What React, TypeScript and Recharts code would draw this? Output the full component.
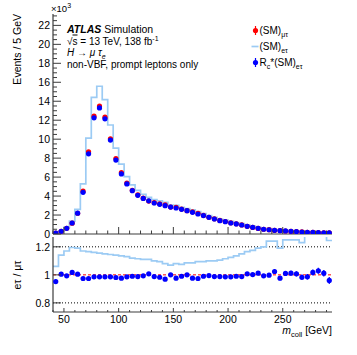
import { ComposedChart, Line, Scatter, XAxis, YAxis, ReferenceLine, ErrorBar } from 'recharts';

// bin centres in m_coll [GeV], 5 GeV bins from 40 to 295
const binCenters = [
  42.5, 47.5, 52.5, 57.5, 62.5, 67.5, 72.5, 77.5, 82.5, 87.5,
  92.5, 97.5, 102.5, 107.5, 112.5, 117.5, 122.5, 127.5, 132.5, 137.5,
  142.5, 147.5, 152.5, 157.5, 162.5, 167.5, 172.5, 177.5, 182.5, 187.5,
  192.5, 197.5, 202.5, 207.5, 212.5, 217.5, 222.5, 227.5, 232.5, 237.5,
  242.5, 247.5, 252.5, 257.5, 262.5, 267.5, 272.5, 277.5, 282.5, 287.5,
  292.5,
];

// Rc*(SM)eτ, events / 5 GeV (x10^3)
const scaledEt = [
  0.1, 0.28, 0.6, 1.16, 2.2, 4.4, 8.45, 12.25, 13.3, 12.15,
  9.9, 7.8, 6.33, 5.28, 4.57, 4.08, 3.75, 3.5, 3.27, 3.13,
  2.99, 2.84, 2.74, 2.6, 2.46, 2.29, 2.11, 1.94, 1.76, 1.58,
  1.41, 1.3, 1.16, 1.06, 0.95, 0.81, 0.7, 0.6, 0.5, 0.45,
  0.39, 0.35, 0.32, 0.28, 0.25, 0.21, 0.18, 0.17, 0.14, 0.13,
  0.11,
];

// Rc*(SM)eτ / (SM)μτ
const ratioScaled = [
  0.952, 1.005, 0.993, 1.017, 1.005, 0.974, 0.974, 0.986, 0.986, 0.986,
  0.986, 0.981, 0.976, 0.986, 0.99, 0.988, 0.993, 1.007, 0.988, 0.983,
  0.969, 1.0, 0.976, 0.99, 1.0, 0.976, 0.974, 0.99, 0.995, 0.988,
  0.988, 0.986, 0.986, 0.99, 0.988, 1.007, 1.002, 1.012, 0.993, 0.998,
  1.024, 0.976, 1.01, 1.012, 1.007, 0.983, 0.986, 1.017, 1.029, 1.012,
  0.96,
];

const ratioErr = [
  0.014, 0.012, 0.009, 0.008, 0.007, 0.006, 0.005, 0.005, 0.005, 0.005,
  0.005, 0.005, 0.005, 0.005, 0.005, 0.006, 0.006, 0.006, 0.006, 0.006,
  0.006, 0.006, 0.007, 0.007, 0.007, 0.007, 0.007, 0.008, 0.008, 0.008,
  0.009, 0.009, 0.01, 0.01, 0.011, 0.011, 0.012, 0.012, 0.013, 0.014,
  0.015, 0.015, 0.016, 0.017, 0.018, 0.019, 0.02, 0.021, 0.022, 0.023,
  0.025,
];

// (SM)eτ / (SM)μτ
const ratioRaw = [
  1.06, 1.14, 1.17, 1.195, 1.19, 1.17, 1.165, 1.16, 1.155, 1.15,
  1.145, 1.14, 1.135, 1.13, 1.12, 1.115, 1.11, 1.11, 1.1, 1.095,
  1.08, 1.07, 1.08, 1.075, 1.085, 1.085, 1.095, 1.095, 1.1, 1.1,
  1.105, 1.115, 1.125, 1.135, 1.15, 1.165, 1.175, 1.19, 1.2, 1.24,
  1.24, 1.19, 1.25, 1.25, 1.25, 1.23, 1.28, 1.28, 1.28, 1.28,
  1.245,
];

const xMajor = [50, 100, 150, 200, 250];
const yMainMajor = [0, 2, 4, 6, 8, 10, 12, 14, 16, 18, 20, 22];
const yRatioMajor = [0.8, 1, 1.2];

const FONT = '"Liberation Sans", Arial, Helvetica, sans-serif';
const FRAME = '#3c3c3c';
const RED = '#ff0000';
const BLUE = '#0000ff';
const LIGHT = '#9ccbf4';

const xTicks: number[] = [];
for (let v = 40; v <= 290; v += 10) xTicks.push(v);
const yMainTicks: number[] = [];
for (let v = 0; v <= 23; v += 0.5) yMainTicks.push(v);

const muTau = scaledEt.map((v, i) => v / ratioScaled[i]);
const etRaw = muTau.map((v, i) => v * ratioRaw[i]);

const redPts = binCenters.map((x, i) => ({ x, y: muTau[i] }));
const bluePts = binCenters.map((x, i) => ({ x, y: scaledEt[i] }));
const histStep = [
  ...binCenters.map((x, i) => ({ x: x - 2.5, y: etRaw[i] })),
  { x: 295, y: etRaw[etRaw.length - 1] },
];
const ratioPts = binCenters.map((x, i) => ({ x, y: ratioScaled[i], err: ratioErr[i] }));
const ratioStep = [
  ...binCenters.map((x, i) => ({ x: x - 2.5, y: ratioRaw[i] })),
  { x: 295, y: ratioRaw[ratioRaw.length - 1] },
];

type Side = 'left' | 'right' | 'top' | 'bottom';

const makeTick =
  (side: Side, majors: number[], majorLen: number, minorLen: number, label: boolean) =>
  (p: any) => {
    const v = p.payload.value;
    const major = majors.some((m) => Math.abs(m - v) < 1e-6);
    const len = major ? majorLen : minorLen;
    let x2 = p.x;
    let y2 = p.y;
    if (side === 'left') x2 = p.x + len;
    if (side === 'right') x2 = p.x - len;
    if (side === 'bottom') y2 = p.y - len;
    if (side === 'top') y2 = p.y + len;
    return (
      <g>
        <line x1={p.x} y1={p.y} x2={x2} y2={y2} stroke={FRAME} strokeWidth={1} />
        {label && major && side === 'left' && (
          <text x={p.x - 3} y={p.y} dy="0.36em" textAnchor="end" fontSize={10.5} fontFamily={FONT} fill="#000">
            {v}
          </text>
        )}
        {label && major && side === 'bottom' && (
          <text x={p.x} y={p.y + 11} textAnchor="middle" fontSize={10.5} fontFamily={FONT} fill="#000">
            {v}
          </text>
        )}
      </g>
    );
  };

const frameLine = { stroke: FRAME, strokeWidth: 1.2 };

const dot = (color: string) => (p: any) => <circle cx={p.cx} cy={p.cy} r={2.6} fill={color} />;

const MainPanel = () => (
  <ComposedChart width={357} height={240} margin={{ top: 14, right: 25, bottom: 0, left: 0 }}>
    <XAxis
      type="number"
      dataKey="x"
      domain={[40, 295]}
      ticks={xTicks}
      interval={0}
      height={6}
      tickSize={0}
      tickMargin={0}
      tickLine={false}
      axisLine={frameLine}
      tick={makeTick('bottom', xMajor, 7, 3.5, false)}
    />
    <XAxis
      xAxisId="t"
      orientation="top"
      type="number"
      dataKey="x"
      domain={[40, 295]}
      ticks={xTicks}
      interval={0}
      height={0}
      tickSize={0}
      tickMargin={0}
      tickLine={false}
      axisLine={frameLine}
      tick={makeTick('top', xMajor, 7, 3.5, false)}
    />
    <YAxis
      type="number"
      domain={[0, 23.2]}
      ticks={yMainTicks}
      interval={0}
      width={53}
      tickSize={0}
      tickMargin={0}
      tickLine={false}
      axisLine={frameLine}
      allowDataOverflow
      tick={makeTick('left', yMainMajor, 8, 4, true)}
    />
    <YAxis
      yAxisId="r"
      orientation="right"
      type="number"
      domain={[0, 23.2]}
      ticks={yMainTicks}
      interval={0}
      width={0}
      tickSize={0}
      tickMargin={0}
      tickLine={false}
      axisLine={frameLine}
      tick={makeTick('right', yMainMajor, 8, 4, false)}
    />
    <Line
      data={histStep}
      dataKey="y"
      type="stepAfter"
      stroke={LIGHT}
      strokeWidth={1.7}
      dot={false}
      isAnimationActive={false}
    />
    <Scatter data={redPts} dataKey="y" shape={dot(RED)} isAnimationActive={false} />
    <Scatter data={bluePts} dataKey="y" shape={dot(BLUE)} isAnimationActive={false} />
  </ComposedChart>
);

const RatioPanel = () => (
  <ComposedChart width={357} height={119} margin={{ top: 1, right: 25, bottom: 0, left: 0 }}>
    <XAxis
      type="number"
      dataKey="x"
      domain={[40, 295]}
      ticks={xTicks}
      interval={0}
      height={43}
      tickSize={0}
      tickMargin={0}
      tickLine={false}
      axisLine={frameLine}
      tick={makeTick('bottom', xMajor, 4, 2, true)}
    />
    <XAxis
      xAxisId="t"
      orientation="top"
      type="number"
      dataKey="x"
      domain={[40, 295]}
      ticks={xTicks}
      interval={0}
      height={0}
      tickSize={0}
      tickMargin={0}
      tickLine={false}
      axisLine={frameLine}
      tick={makeTick('top', xMajor, 4, 2, false)}
    />
    <YAxis
      type="number"
      domain={[0.735, 1.27]}
      ticks={yRatioMajor}
      interval={0}
      width={53}
      tickSize={0}
      tickMargin={0}
      tickLine={false}
      axisLine={frameLine}
      allowDataOverflow
      tick={makeTick('left', yRatioMajor, 8, 4, true)}
    />
    <YAxis
      yAxisId="r"
      orientation="right"
      type="number"
      domain={[0.735, 1.27]}
      ticks={yRatioMajor}
      interval={0}
      width={0}
      tickSize={0}
      tickMargin={0}
      tickLine={false}
      axisLine={frameLine}
      tick={makeTick('right', yRatioMajor, 8, 4, false)}
    />
    <ReferenceLine y={1.2} stroke="#000" strokeDasharray="1 2" strokeWidth={1} />
    <ReferenceLine y={0.8} stroke="#000" strokeDasharray="1 2" strokeWidth={1} />
    <ReferenceLine y={1} stroke={RED} strokeDasharray="3 2" strokeWidth={1} />
    <Line
      data={ratioStep}
      dataKey="y"
      type="stepAfter"
      stroke={LIGHT}
      strokeWidth={1.7}
      dot={false}
      isAnimationActive={false}
    />
    <Scatter data={ratioPts} dataKey="y" shape={dot(BLUE)} isAnimationActive={false}>
      <ErrorBar dataKey="err" direction="y" width={0} stroke={BLUE} strokeWidth={1.2} />
    </Scatter>
  </ComposedChart>
);

const Labels = () => (
  <svg
    width={357}
    height={355}
    style={{ position: 'absolute', left: 0, top: 0, pointerEvents: 'none' }}
    fontFamily={FONT}
  >
    <text x={51} y={12} fontSize={9.5}>
      ×10<tspan dy={-4} fontSize={7}>3</tspan>
    </text>
    <text transform="translate(21,14) rotate(-90)" textAnchor="end" fontSize={10.5}>
      Events / 5 GeV
    </text>
    <text transform="translate(21,275) rotate(-90)" textAnchor="middle" fontSize={10.5}>
      eτ / μτ
    </text>
    <text x={67} y={32.5} fontSize={10.5}>
      <tspan fontWeight="bold" fontStyle="italic">ATLAS</tspan> Simulation
    </text>
    <text x={67} y={44.5} fontSize={10}>
      √<tspan textDecoration="overline">s</tspan> = 13 TeV, 138 fb<tspan dy={-4} fontSize={7}>-1</tspan>
    </text>
    <text x={67} y={56} fontSize={10}>
      <tspan fontStyle="italic">H</tspan> → <tspan fontStyle="italic">μ τ</tspan>
      <tspan dy={2.5} fontSize={7} fontStyle="italic">e</tspan>
    </text>
    <text x={67} y={67.5} fontSize={10}>
      non-VBF, prompt leptons only
    </text>

    <line x1={255.5} x2={255.5} y1={26} y2={35} stroke={RED} strokeWidth={1.2} />
    <circle cx={255.5} cy={30.5} r={2.6} fill={RED} />
    <text x={259.5} y={34} fontSize={10}>
      (SM)<tspan dy={2.5} fontSize={7}>μτ</tspan>
    </text>
    <line x1={251.5} x2={258.5} y1={46.5} y2={46.5} stroke={LIGHT} strokeWidth={1.7} />
    <text x={259.5} y={50} fontSize={10}>
      (SM)<tspan dy={2.5} fontSize={7}>eτ</tspan>
    </text>
    <line x1={255.5} x2={255.5} y1={58} y2={67} stroke={BLUE} strokeWidth={1.2} />
    <circle cx={255.5} cy={62.5} r={2.6} fill={BLUE} />
    <text x={259.5} y={66} fontSize={10}>
      R<tspan dy={2.5} fontSize={7}>c</tspan>
      <tspan dy={-2.5}>*(SM)</tspan>
      <tspan dy={2.5} fontSize={7}>eτ</tspan>
    </text>

    <text x={332} y={334} textAnchor="end" fontSize={10.5}>
      <tspan fontStyle="italic">m</tspan>
      <tspan dy={2.5} fontSize={7.5}>coll</tspan>
      <tspan dy={-2.5}> [GeV]</tspan>
    </text>
  </svg>
);

export default function App() {
  return (
    <div style={{ position: 'absolute', left: 0, top: 0, width: 357, height: 355, background: '#fff' }}>
      <div style={{ position: 'absolute', left: 0, top: 0 }}>
        <MainPanel />
      </div>
      <div style={{ position: 'absolute', left: 0, top: 236 }}>
        <RatioPanel />
      </div>
      <Labels />
    </div>
  );
}
